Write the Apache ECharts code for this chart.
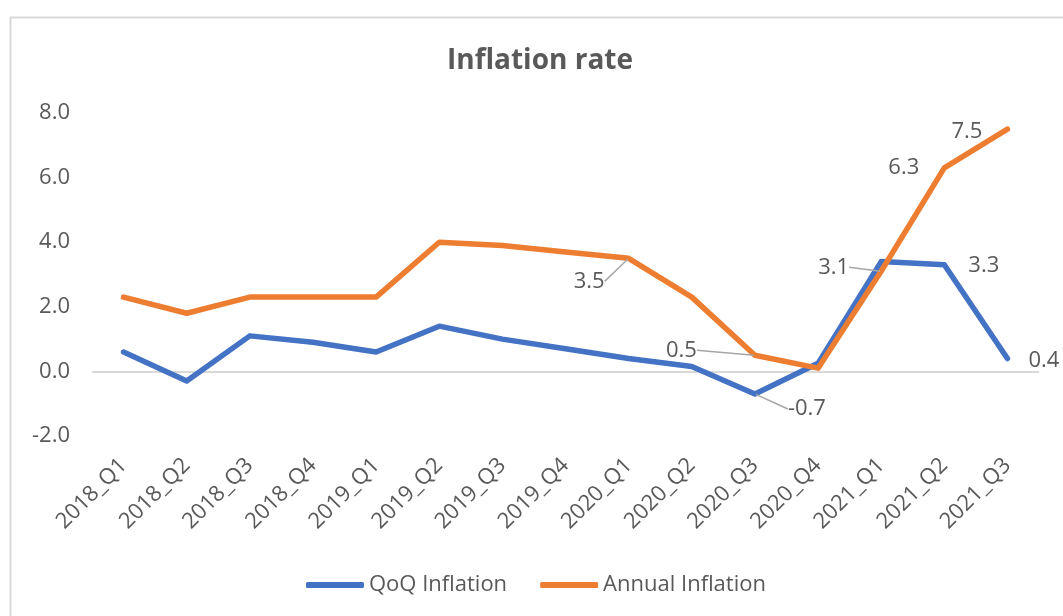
<!DOCTYPE html>
<html>
<head>
<meta charset="utf-8">
<title>Inflation rate</title>
<script src="https://cdn.jsdelivr.net/npm/echarts@6/dist/echarts.min.js"></script>
<style>
  html, body { margin: 0; padding: 0; background: #ffffff; }
  #chart { width: 1063px; height: 616px; }
</style>
</head>
<body>
<div id="chart"></div>
<script>
// Quarterly periods on the category axis
const quarters = [
  '2018_Q1', '2018_Q2', '2018_Q3', '2018_Q4',
  '2019_Q1', '2019_Q2', '2019_Q3', '2019_Q4',
  '2020_Q1', '2020_Q2', '2020_Q3', '2020_Q4',
  '2021_Q1', '2021_Q2', '2021_Q3'
];

// Quarter-on-quarter inflation (%)
const qoqInflation = [0.6, -0.3, 1.1, 0.9, 0.6, 1.4, 1.0, 0.7, 0.4, 0.15, -0.7, 0.25, 3.4, 3.3, 0.4];

// Annual inflation (%)
const annualInflation = [2.3, 1.8, 2.3, 2.3, 2.3, 4.0, 3.9, 3.7, 3.5, 2.3, 0.5, 0.1, 3.1, 6.3, 7.5];

// Value-axis ticks
const yTicks = [-2, 0, 2, 4, 6, 8];

// Points that carry a value label
const qoqLabelled = [10, 13, 14];
const annualLabelled = [8, 10, 12, 13, 14];

const TEXT = '#595959';
const FONT = 'Open Sans';

// Where each value label sits relative to its point
const labelPlacement = {
  qoq: {
    10: { dx: 33, dy: 15, align: 'left', guide: true },
    13: { dx: 24, dy: 1, align: 'left' },
    14: { dx: 21, dy: 2, align: 'left' }
  },
  annual: {
    8:  { dx: -24, dy: 23, align: 'right', guide: true },
    10: { dx: -58, dy: -5, align: 'right', guide: true },
    12: { dx: -32, dy: -4, align: 'right', guide: true },
    13: { dx: -25, dy: 0, align: 'right' },
    14: { dx: -25, dy: 3, align: 'right' }
  }
};

function buildData(values, labelled, key) {
  return values.map(function (v, i) {
    const place = labelPlacement[key][i];
    if (labelled.indexOf(i) < 0) {
      return { value: v, label: { show: false } };
    }
    return {
      value: v,
      label: { show: true },
      labelLine: { show: !!(place && place.guide) }
    };
  });
}

function layoutFor(key) {
  return function (params) {
    const place = labelPlacement[key][params.dataIndex];
    if (!place) return {};
    const cx = params.rect.x + params.rect.width / 2;
    const cy = params.rect.y + params.rect.height / 2;
    return {
      x: cx + place.dx,
      y: cy + place.dy,
      align: place.align,
      verticalAlign: 'middle'
    };
  };
}

const seriesLabel = {
  fontFamily: FONT,
  fontSize: 22,
  color: TEXT,
  formatter: function (p) { return p.value.toFixed(1); }
};

const guideLine = {
  lineStyle: { color: '#a6a6a6', width: 1.5 },
  smooth: false
};

const chart = echarts.init(document.getElementById('chart'), null, { renderer: 'canvas' });

chart.setOption({
  backgroundColor: '#ffffff',
  animation: false,
  textStyle: { fontFamily: FONT },
  title: {
    text: 'Inflation rate',
    left: 540,
    top: 47,
    padding: 0,
    textAlign: 'center',
    textStyle: { fontFamily: FONT, fontSize: 28, fontWeight: 'bold', color: TEXT }
  },
  graphic: [{
    type: 'rect',
    left: 8,
    top: 15,
    shape: { x: 0, y: 0, width: 1200, height: 800 },
    style: { fill: 'none', stroke: '#d9d9d9', lineWidth: 2 },
    silent: true,
    z: -1
  }],
  legend: {
    left: 301,
    top: 569,
    itemWidth: 58,
    itemHeight: 6,
    itemGap: 33,
    icon: 'roundRect',
    textStyle: { fontFamily: FONT, fontSize: 22, color: TEXT },
    data: ['QoQ Inflation', 'Annual Inflation']
  },
  grid: { left: 92, right: 24, top: 113, bottom: 180 },
  xAxis: {
    type: 'category',
    data: quarters,
    boundaryGap: true,
    axisLine: { show: false },
    axisTick: { show: false },
    splitLine: { show: false },
    axisLabel: {
      interval: 0,
      rotate: 45,
      margin: 26,
      padding: [30, 0, 0, 0],
      fontFamily: FONT,
      fontSize: 22,
      color: TEXT
    }
  },
  yAxis: {
    type: 'value',
    min: yTicks[0],
    max: yTicks[yTicks.length - 1],
    interval: 2,
    axisLine: { show: false },
    axisTick: { show: false },
    splitLine: {
      show: true,
      lineStyle: {
        width: 2,
        color: yTicks.map(function (t) { return t === 0 ? '#d9d9d9' : 'rgba(0,0,0,0)'; })
      }
    },
    axisLabel: {
      margin: 22,
      fontFamily: FONT,
      fontSize: 22,
      color: TEXT,
      formatter: function (v) { return v.toFixed(1); }
    }
  },
  series: [
    {
      name: 'QoQ Inflation',
      type: 'line',
      data: buildData(qoqInflation, qoqLabelled, 'qoq'),
      symbol: 'circle',
      symbolSize: 2,
      showSymbol: true,
      color: '#4472C4',
      itemStyle: { color: '#4472C4' },
      lineStyle: { color: '#4472C4', width: 5.5, cap: 'round', join: 'round' },
      label: seriesLabel,
      labelLine: guideLine,
      labelLayout: layoutFor('qoq'),
      z: 3
    },
    {
      name: 'Annual Inflation',
      type: 'line',
      data: buildData(annualInflation, annualLabelled, 'annual'),
      symbol: 'circle',
      symbolSize: 2,
      showSymbol: true,
      color: '#ED7D31',
      itemStyle: { color: '#ED7D31' },
      lineStyle: { color: '#ED7D31', width: 5.5, cap: 'round', join: 'round' },
      label: seriesLabel,
      labelLine: guideLine,
      labelLayout: layoutFor('annual'),
      z: 4
    }
  ]
});
</script>
</body>
</html>
